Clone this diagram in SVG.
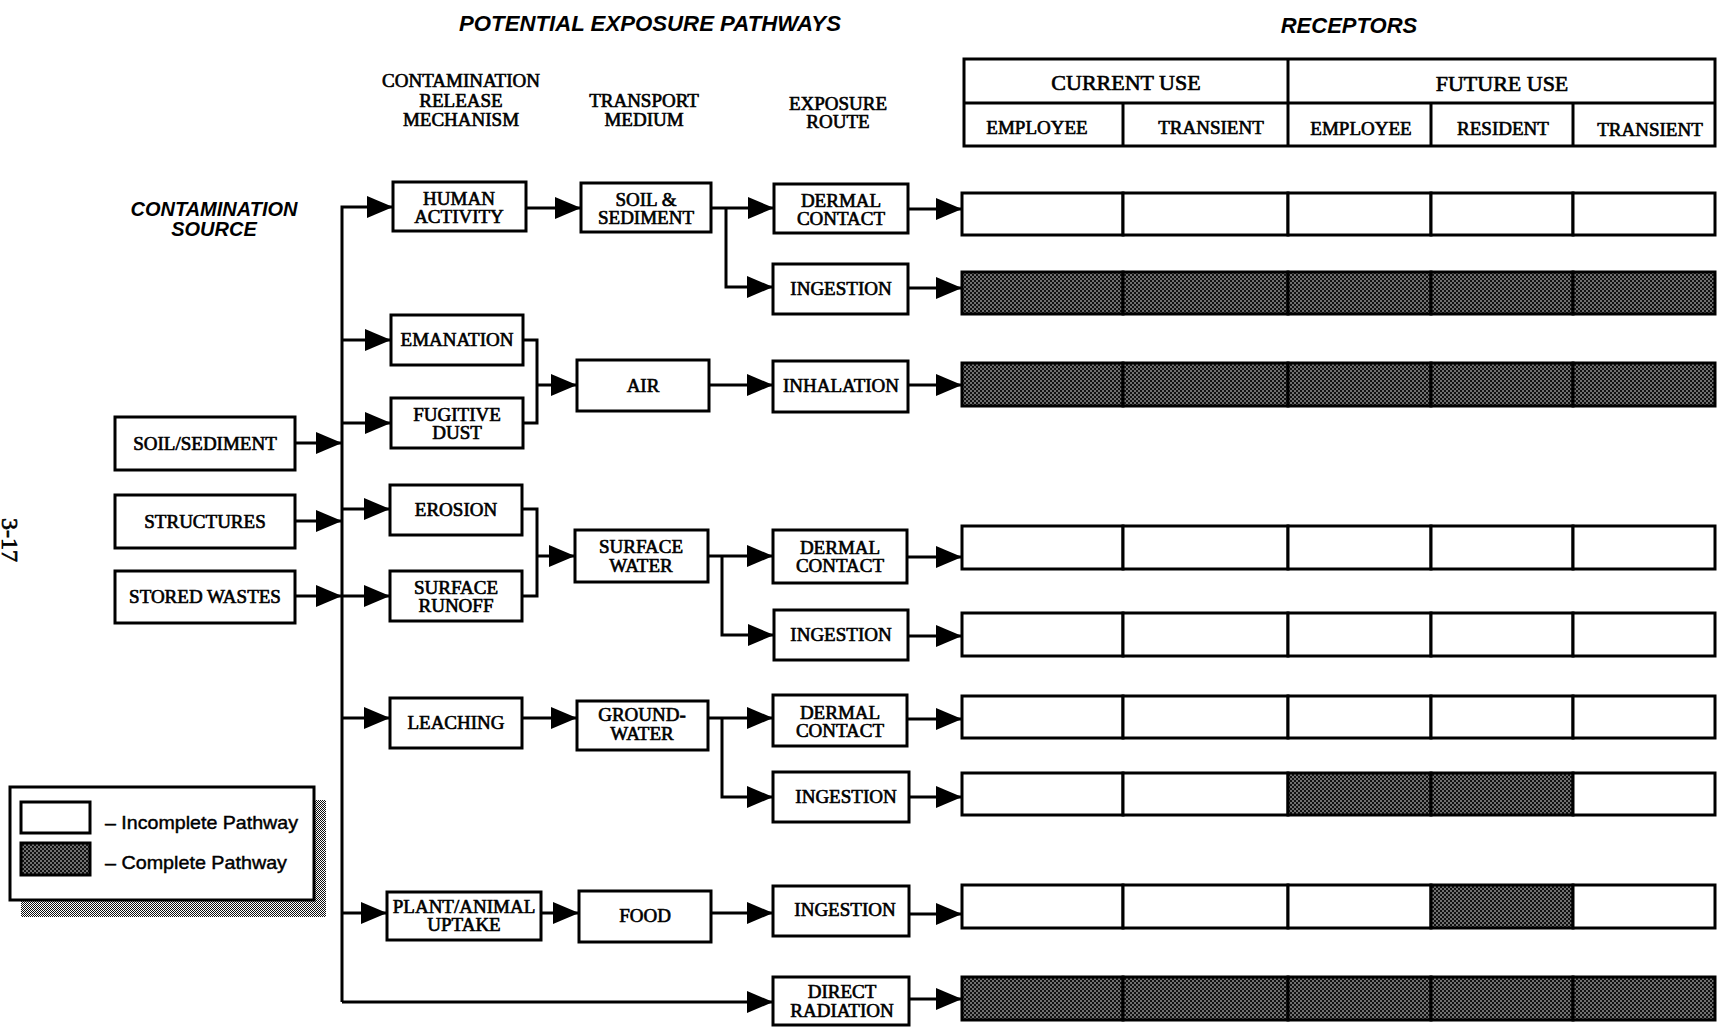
<svg xmlns="http://www.w3.org/2000/svg" width="1717" height="1027" viewBox="0 0 1717 1027">
  <style>
    .box { fill: #fff; stroke: #000; stroke-width: 3; }
    .cell { fill: #fff; stroke: #000; stroke-width: 3; }
    .cell.on { fill: url(#stip); }
    .ln { fill: none; stroke: #000; stroke-width: 3; }
    .arr { fill: none; stroke: #000; stroke-width: 3; marker-end: url(#ah); }
    .t { font-family: "Liberation Serif", "Times New Roman", serif; font-size: 19px; text-anchor: middle; fill: #000; stroke: #000; stroke-width: 0.65; }
    .big { font-size: 22px; }
    .ti { font-family: "Liberation Sans", Arial, sans-serif; font-weight: bold; font-style: italic; text-anchor: middle; fill: #000; }
    .lg { font-family: "Liberation Sans", Arial, sans-serif; font-size: 19px; fill: #000; stroke: #000; stroke-width: 0.45; }
  </style>
  <defs>
    <!-- dense stipple used for "complete pathway" cells -->
    <pattern id="stip" width="4" height="4" patternUnits="userSpaceOnUse">
      <rect width="4" height="4" fill="#111"/>
      <circle cx="1" cy="1" r="0.75" fill="#fff"/>
      <circle cx="3" cy="3" r="0.75" fill="#fff"/>
    </pattern>
    <!-- checker stipple for the legend drop shadow -->
    <pattern id="shade" width="2" height="2" patternUnits="userSpaceOnUse">
      <rect width="2" height="2" fill="#fff"/>
      <rect width="1" height="1" fill="#111"/>
      <rect x="1" y="1" width="1" height="1" fill="#111"/>
    </pattern>
    <marker id="ah" viewBox="0 0 26 22" refX="26" refY="11" markerWidth="26" markerHeight="22" markerUnits="userSpaceOnUse" orient="auto">
      <path d="M0,0 L26,11 L0,22 Z" fill="#000"/>
    </marker>
  </defs>

  <rect width="1717" height="1027" fill="#fff"/>

  <!-- page number -->
  <text class="t" transform="translate(2,540) rotate(90)" style="font-size:24px">3-17</text>

  <!-- titles and column headings -->
  <g id="headings">
    <text class="ti" x="650" y="31" font-size="22" textLength="382" lengthAdjust="spacingAndGlyphs">POTENTIAL EXPOSURE PATHWAYS</text>
    <text class="ti" x="1349" y="33" font-size="22">RECEPTORS</text>
    <text class="ti" x="214" y="216" font-size="20">CONTAMINATION</text>
    <text class="ti" x="214" y="236" font-size="20">SOURCE</text>
    <text class="t" x="461" y="87">CONTAMINATION</text>
    <text class="t" x="461" y="107">RELEASE</text>
    <text class="t" x="461" y="126">MECHANISM</text>
    <text class="t" x="644" y="107">TRANSPORT</text>
    <text class="t" x="644" y="126">MEDIUM</text>
    <text class="t" x="838" y="110">EXPOSURE</text>
    <text class="t" x="838" y="128">ROUTE</text>
  </g>

  <!-- receptor header table -->
  <g id="receptor-header">
    <rect class="box" x="964" y="59" width="751" height="87"/>
    <line class="ln" x1="964" y1="103" x2="1715" y2="103"/>
    <line class="ln" x1="1288" y1="59" x2="1288" y2="146"/>
    <line class="ln" x1="1123" y1="103" x2="1123" y2="146"/>
    <line class="ln" x1="1431" y1="103" x2="1431" y2="146"/>
    <line class="ln" x1="1573" y1="103" x2="1573" y2="146"/>
    <text class="t big" x="1126" y="90">CURRENT USE</text>
    <text class="t big" x="1502" y="91">FUTURE USE</text>
    <text class="t" x="1037" y="134">EMPLOYEE</text>
    <text class="t" x="1211" y="134">TRANSIENT</text>
    <text class="t" x="1361" y="135">EMPLOYEE</text>
    <text class="t" x="1503" y="135">RESIDENT</text>
    <text class="t" x="1650" y="136">TRANSIENT</text>
  </g>

  <!-- connectors -->
  <g id="connectors">
    <!-- main distribution bus -->
    <path class="arr" d="M342,1002 V207 H393"/>
    <path class="arr" d="M342,1002 H773"/>
    <!-- sources onto bus -->
    <path class="arr" d="M295,443 H342"/>
    <path class="arr" d="M295,521 H342"/>
    <path class="arr" d="M295,596 H342"/>
    <!-- bus to release mechanisms -->
    <path class="arr" d="M342,340 H391"/>
    <path class="arr" d="M342,423 H391"/>
    <path class="arr" d="M342,509 H390"/>
    <path class="arr" d="M342,596 H390"/>
    <path class="arr" d="M342,718 H390"/>
    <path class="arr" d="M342,913 H387"/>
    <!-- release to transport -->
    <path class="arr" d="M526,208 H581"/>
    <path class="ln" d="M523,340 H537 V423 H523"/>
    <path class="arr" d="M537,385 H577"/>
    <path class="ln" d="M522,509 H537 V596 H522"/>
    <path class="arr" d="M537,556 H575"/>
    <path class="arr" d="M522,718 H577"/>
    <path class="arr" d="M541,913 H579"/>
    <!-- transport to exposure route -->
    <path class="arr" d="M711,208 H774"/>
    <path class="arr" d="M726,208 V287 H773"/>
    <path class="arr" d="M709,385 H773"/>
    <path class="arr" d="M708,556 H773"/>
    <path class="arr" d="M722,556 V635 H774"/>
    <path class="arr" d="M708,718 H773"/>
    <path class="arr" d="M722,718 V797 H773"/>
    <path class="arr" d="M711,913 H773"/>
    <!-- exposure route to receptors -->
    <path class="arr" d="M908,209 H962"/>
    <path class="arr" d="M908,288 H962"/>
    <path class="arr" d="M908,385 H962"/>
    <path class="arr" d="M907,557 H962"/>
    <path class="arr" d="M908,636 H962"/>
    <path class="arr" d="M907,719 H962"/>
    <path class="arr" d="M909,797 H962"/>
    <path class="arr" d="M909,914 H962"/>
    <path class="arr" d="M909,999 H962"/>
  </g>

  <!-- contamination sources -->
  <g id="src-soil-sediment">
    <rect class="box" x="115" y="417" width="180" height="53"/>
    <text class="t" x="205" y="450">SOIL/SEDIMENT</text>
  </g>
  <g id="src-structures">
    <rect class="box" x="115" y="495" width="180" height="53"/>
    <text class="t" x="205" y="528">STRUCTURES</text>
  </g>
  <g id="src-stored-wastes">
    <rect class="box" x="115" y="571" width="180" height="52"/>
    <text class="t" x="205" y="603">STORED WASTES</text>
  </g>

  <!-- release mechanisms -->
  <g id="rel-human-activity">
    <rect class="box" x="393" y="182" width="133" height="49"/>
    <text class="t" x="459" y="205">HUMAN</text>
    <text class="t" x="459" y="223">ACTIVITY</text>
  </g>
  <g id="rel-emanation">
    <rect class="box" x="391" y="315" width="132" height="50"/>
    <text class="t" x="457" y="346">EMANATION</text>
  </g>
  <g id="rel-fugitive-dust">
    <rect class="box" x="391" y="398" width="132" height="50"/>
    <text class="t" x="457" y="421">FUGITIVE</text>
    <text class="t" x="457" y="439">DUST</text>
  </g>
  <g id="rel-erosion">
    <rect class="box" x="390" y="485" width="132" height="50"/>
    <text class="t" x="456" y="516">EROSION</text>
  </g>
  <g id="rel-surface-runoff">
    <rect class="box" x="390" y="571" width="132" height="50"/>
    <text class="t" x="456" y="594">SURFACE</text>
    <text class="t" x="456" y="612">RUNOFF</text>
  </g>
  <g id="rel-leaching">
    <rect class="box" x="390" y="698" width="132" height="50"/>
    <text class="t" x="456" y="729">LEACHING</text>
  </g>
  <g id="rel-plant-animal-uptake">
    <rect class="box" x="387" y="892" width="154" height="48"/>
    <text class="t" x="464" y="913">PLANT/ANIMAL</text>
    <text class="t" x="464" y="931">UPTAKE</text>
  </g>

  <!-- transport media -->
  <g id="med-soil-sediment">
    <rect class="box" x="581" y="183" width="130" height="49"/>
    <text class="t" x="646" y="206">SOIL &amp;</text>
    <text class="t" x="646" y="224">SEDIMENT</text>
  </g>
  <g id="med-air">
    <rect class="box" x="577" y="360" width="132" height="51"/>
    <text class="t" x="643" y="392">AIR</text>
  </g>
  <g id="med-surface-water">
    <rect class="box" x="575" y="530" width="133" height="52"/>
    <text class="t" x="641" y="553">SURFACE</text>
    <text class="t" x="641" y="572">WATER</text>
  </g>
  <g id="med-groundwater">
    <rect class="box" x="577" y="701" width="131" height="49"/>
    <text class="t" x="642" y="721">GROUND-</text>
    <text class="t" x="642" y="740">WATER</text>
  </g>
  <g id="med-food">
    <rect class="box" x="579" y="891" width="132" height="51"/>
    <text class="t" x="645" y="922">FOOD</text>
  </g>

  <!-- exposure routes -->
  <g id="exp-dermal-soil">
    <rect class="box" x="774" y="184" width="134" height="49"/>
    <text class="t" x="841" y="207">DERMAL</text>
    <text class="t" x="841" y="225">CONTACT</text>
  </g>
  <g id="exp-ingestion-soil">
    <rect class="box" x="773" y="264" width="135" height="50"/>
    <text class="t" x="841" y="295">INGESTION</text>
  </g>
  <g id="exp-inhalation">
    <rect class="box" x="773" y="361" width="135" height="51"/>
    <text class="t" x="841" y="392">INHALATION</text>
  </g>
  <g id="exp-dermal-surface-water">
    <rect class="box" x="773" y="530" width="134" height="53"/>
    <text class="t" x="840" y="554">DERMAL</text>
    <text class="t" x="840" y="572">CONTACT</text>
  </g>
  <g id="exp-ingestion-surface-water">
    <rect class="box" x="774" y="610" width="134" height="50"/>
    <text class="t" x="841" y="641">INGESTION</text>
  </g>
  <g id="exp-dermal-groundwater">
    <rect class="box" x="773" y="695" width="134" height="51"/>
    <text class="t" x="840" y="719">DERMAL</text>
    <text class="t" x="840" y="737">CONTACT</text>
  </g>
  <g id="exp-ingestion-groundwater">
    <rect class="box" x="773" y="772" width="136" height="50"/>
    <text class="t" x="846" y="803">INGESTION</text>
  </g>
  <g id="exp-ingestion-food">
    <rect class="box" x="773" y="886" width="136" height="50"/>
    <text class="t" x="845" y="916">INGESTION</text>
  </g>
  <g id="exp-direct-radiation">
    <rect class="box" x="773" y="977" width="136" height="48"/>
    <text class="t" x="842" y="998">DIRECT</text>
    <text class="t" x="842" y="1017">RADIATION</text>
  </g>

  <!-- receptor rows: columns at 962 / 1123 / 1288 / 1431 / 1573 / 1715 -->
  <g id="rec-dermal-soil">
    <rect class="cell" x="962" y="193" width="161" height="42"/>
    <rect class="cell" x="1123" y="193" width="165" height="42"/>
    <rect class="cell" x="1288" y="193" width="143" height="42"/>
    <rect class="cell" x="1431" y="193" width="142" height="42"/>
    <rect class="cell" x="1573" y="193" width="142" height="42"/>
  </g>
  <g id="rec-ingestion-soil">
    <rect class="cell on" x="962" y="272" width="161" height="42"/>
    <rect class="cell on" x="1123" y="272" width="165" height="42"/>
    <rect class="cell on" x="1288" y="272" width="143" height="42"/>
    <rect class="cell on" x="1431" y="272" width="142" height="42"/>
    <rect class="cell on" x="1573" y="272" width="142" height="42"/>
  </g>
  <g id="rec-inhalation">
    <rect class="cell on" x="962" y="363" width="161" height="43"/>
    <rect class="cell on" x="1123" y="363" width="165" height="43"/>
    <rect class="cell on" x="1288" y="363" width="143" height="43"/>
    <rect class="cell on" x="1431" y="363" width="142" height="43"/>
    <rect class="cell on" x="1573" y="363" width="142" height="43"/>
  </g>
  <g id="rec-dermal-surface-water">
    <rect class="cell" x="962" y="526" width="161" height="43"/>
    <rect class="cell" x="1123" y="526" width="165" height="43"/>
    <rect class="cell" x="1288" y="526" width="143" height="43"/>
    <rect class="cell" x="1431" y="526" width="142" height="43"/>
    <rect class="cell" x="1573" y="526" width="142" height="43"/>
  </g>
  <g id="rec-ingestion-surface-water">
    <rect class="cell" x="962" y="613" width="161" height="43"/>
    <rect class="cell" x="1123" y="613" width="165" height="43"/>
    <rect class="cell" x="1288" y="613" width="143" height="43"/>
    <rect class="cell" x="1431" y="613" width="142" height="43"/>
    <rect class="cell" x="1573" y="613" width="142" height="43"/>
  </g>
  <g id="rec-dermal-groundwater">
    <rect class="cell" x="962" y="696" width="161" height="42"/>
    <rect class="cell" x="1123" y="696" width="165" height="42"/>
    <rect class="cell" x="1288" y="696" width="143" height="42"/>
    <rect class="cell" x="1431" y="696" width="142" height="42"/>
    <rect class="cell" x="1573" y="696" width="142" height="42"/>
  </g>
  <g id="rec-ingestion-groundwater">
    <rect class="cell" x="962" y="773" width="161" height="42"/>
    <rect class="cell" x="1123" y="773" width="165" height="42"/>
    <rect class="cell on" x="1288" y="773" width="143" height="42"/>
    <rect class="cell on" x="1431" y="773" width="142" height="42"/>
    <rect class="cell" x="1573" y="773" width="142" height="42"/>
  </g>
  <g id="rec-ingestion-food">
    <rect class="cell" x="962" y="885" width="161" height="43"/>
    <rect class="cell" x="1123" y="885" width="165" height="43"/>
    <rect class="cell" x="1288" y="885" width="143" height="43"/>
    <rect class="cell on" x="1431" y="885" width="142" height="43"/>
    <rect class="cell" x="1573" y="885" width="142" height="43"/>
  </g>
  <g id="rec-direct-radiation">
    <rect class="cell on" x="962" y="977" width="161" height="43"/>
    <rect class="cell on" x="1123" y="977" width="165" height="43"/>
    <rect class="cell on" x="1288" y="977" width="143" height="43"/>
    <rect class="cell on" x="1431" y="977" width="142" height="43"/>
    <rect class="cell on" x="1573" y="977" width="142" height="43"/>
  </g>

  <!-- legend -->
  <g id="legend">
    <rect x="21" y="800" width="305" height="117" fill="url(#shade)"/>
    <rect class="box" x="10" y="787" width="304" height="113"/>
    <rect class="cell" x="21" y="802" width="69" height="31"/>
    <rect class="cell on" x="21" y="843" width="69" height="32"/>
    <text class="lg" x="105" y="829" textLength="193" lengthAdjust="spacingAndGlyphs">– Incomplete Pathway</text>
    <text class="lg" x="105" y="869" textLength="182" lengthAdjust="spacingAndGlyphs">– Complete Pathway</text>
  </g>
</svg>
